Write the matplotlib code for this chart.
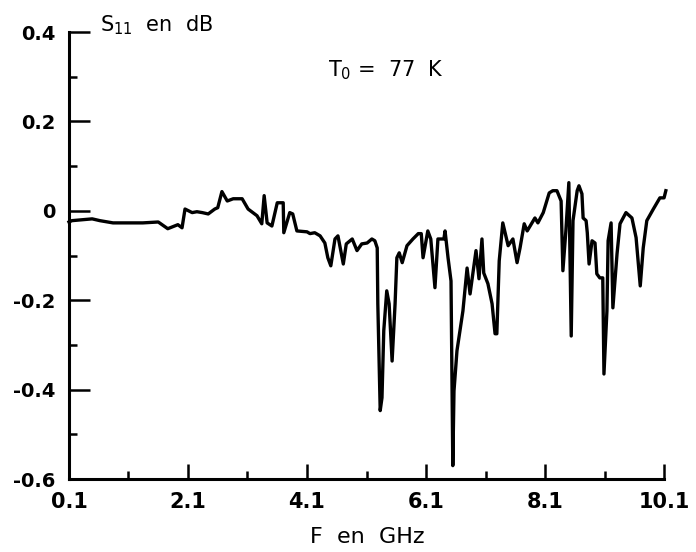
import matplotlib
matplotlib.use("Agg")
import matplotlib.pyplot as plt
from matplotlib.ticker import FixedLocator

# ---- data (GHz, dB) ----
freq_ghz = [0.10, 0.15, 0.49, 0.62, 0.84, 1.34, 1.60, 1.76, 1.93, 2.00,
            2.05, 2.17, 2.25, 2.34, 2.44, 2.55, 2.60, 2.67, 2.76, 2.86,
            3.01, 3.11, 3.26, 3.34, 3.38, 3.43, 3.51, 3.60, 3.70, 3.71,
            3.81, 3.86, 3.93, 4.10, 4.15, 4.23, 4.32, 4.40, 4.45, 4.50,
            4.57, 4.62, 4.71, 4.76, 4.86, 4.94, 5.02, 5.11, 5.19, 5.24,
            5.28, 5.29, 5.33, 5.36, 5.39, 5.44, 5.48, 5.53, 5.58, 5.61,
            5.65, 5.70, 5.78, 5.88, 5.97, 6.02, 6.05, 6.10, 6.13, 6.18,
            6.25, 6.30, 6.40, 6.42, 6.47, 6.52, 6.55, 6.57, 6.62, 6.67,
            6.72, 6.79, 6.84, 6.94, 6.99, 7.04, 7.07, 7.14, 7.21, 7.26,
            7.29, 7.33, 7.39, 7.48, 7.56, 7.63, 7.68, 7.75, 7.80, 7.93,
            7.98, 8.07, 8.17, 8.23, 8.30, 8.37, 8.40, 8.45, 8.50, 8.54,
            8.57, 8.64, 8.67, 8.72, 8.74, 8.79, 8.81, 8.84, 8.89, 8.94,
            8.97, 9.02, 9.07, 9.09, 9.14, 9.16, 9.21, 9.24, 9.31, 9.36,
            9.46, 9.56, 9.63, 9.70, 9.75, 9.81, 9.92, 10.03, 10.10, 10.13]
s11_db = [-0.025, -0.022, -0.018, -0.022, -0.027, -0.027, -0.025, -0.040, -0.031, -0.038,
          0.004, -0.004, -0.002, -0.004, -0.007, 0.004, 0.007, 0.043, 0.022, 0.027,
          0.027, 0.004, -0.011, -0.029, 0.034, -0.027, -0.034, 0.018, 0.018, -0.049,
          -0.004, -0.007, -0.045, -0.047, -0.051, -0.049, -0.056, -0.072, -0.105, -0.123,
          -0.063, -0.056, -0.119, -0.074, -0.063, -0.089, -0.074, -0.072, -0.063, -0.067,
          -0.083, -0.208, -0.447, -0.418, -0.268, -0.179, -0.208, -0.336, -0.208, -0.105,
          -0.094, -0.116, -0.078, -0.063, -0.051, -0.051, -0.105, -0.067, -0.045, -0.063,
          -0.172, -0.063, -0.063, -0.045, -0.105, -0.157, -0.570, -0.403, -0.313, -0.268,
          -0.224, -0.128, -0.186, -0.089, -0.152, -0.063, -0.139, -0.163, -0.208, -0.275,
          -0.275, -0.112, -0.027, -0.078, -0.063, -0.116, -0.083, -0.029, -0.045, -0.016,
          -0.027, -0.004, 0.040, 0.045, 0.045, 0.022, -0.134, -0.045, 0.063, -0.280,
          -0.022, 0.045, 0.056, 0.038, -0.016, -0.022, -0.049, -0.119, -0.067, -0.072,
          -0.141, -0.150, -0.150, -0.365, -0.224, -0.067, -0.027, -0.217, -0.096, -0.029,
          -0.004, -0.016, -0.060, -0.168, -0.083, -0.022, 0.004, 0.029, 0.029, 0.045]

x_major = [0.1, 2.1, 4.1, 6.1, 8.1, 10.1]
x_minor = [1.1, 3.1, 5.1, 7.1, 9.1]
x_labels = ["0.1", "2.1", "4.1", "6.1", "8.1", "10.1"]
y_major = [-0.6, -0.4, -0.2, 0.0, 0.2, 0.4]
y_minor = [-0.5, -0.3, -0.1, 0.1, 0.3]
y_labels = ["-0.6", "-0.4", "-0.2", "0", "0.2", "0.4"]

plt.rcParams['font.family'] = ['DejaVu Sans']

fig = plt.figure(figsize=(6.96, 5.52), dpi=100)
ax = fig.add_axes([0.0991, 0.1322, 0.855, 0.8098])

ax.plot(freq_ghz, s11_db, color='black', linewidth=2.4, clip_on=False)

ax.set_xlim(0.1, 10.1)
ax.set_ylim(-0.6, 0.4)

for side in ['top', 'right']:
    ax.spines[side].set_visible(False)
for side in ['left', 'bottom']:
    ax.spines[side].set_linewidth(2.2)

ax.xaxis.set_major_locator(FixedLocator(x_major))
ax.xaxis.set_minor_locator(FixedLocator(x_minor))
ax.set_xticklabels(x_labels)
ax.yaxis.set_major_locator(FixedLocator(y_major))
ax.yaxis.set_minor_locator(FixedLocator(y_minor))
ax.set_yticklabels(y_labels)

ax.tick_params(axis='x', which='major', direction='in', length=11, width=1.8,
               pad=9, labelsize=15)
ax.tick_params(axis='x', which='minor', direction='in', length=6, width=1.8)
ax.tick_params(axis='y', which='major', direction='in', length=15, width=1.8,
               pad=10, labelsize=14)
ax.tick_params(axis='y', which='minor', direction='in', length=6, width=1.8)
for lab in ax.get_xticklabels() + ax.get_yticklabels():
    lab.set_fontweight('bold')

ax.text(0.052, 1.016, "S$_{11}$  en  dB", transform=ax.transAxes,
        ha='left', va='center', fontsize=15)
ax.text(0.533, 0.915, "T$_0$ =  77  K", transform=ax.transAxes,
        ha='center', va='center', fontsize=15)
ax.text(0.501, -0.13, "F  en  GHz", transform=ax.transAxes,
        ha='center', va='center', fontsize=16)

fig.savefig('out.png', dpi=100)
